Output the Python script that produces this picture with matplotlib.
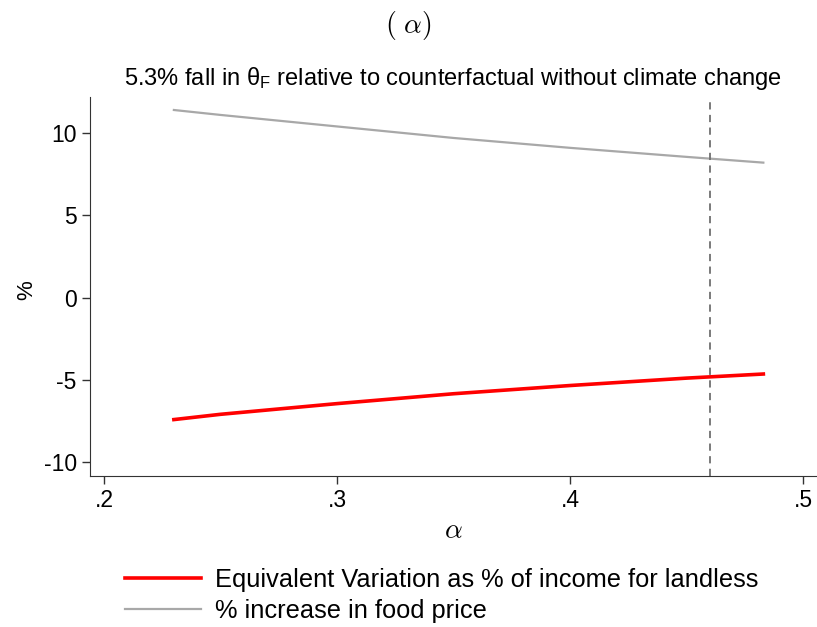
import numpy as np
import matplotlib as mpl
import matplotlib.pyplot as plt

# alpha grid and simulated outcomes
alpha = [0.23, 0.25, 0.30, 0.35, 0.40, 0.45, 0.483]
food_price = [11.4, 11.1, 10.4, 9.7, 9.1, 8.55, 8.2]
ev_landless = [-7.42, -7.1, -6.45, -5.85, -5.35, -4.9, -4.65]
alpha_base = 0.46

mpl.rcParams['font.family'] = ['Liberation Sans', 'DejaVu Sans']
mpl.rcParams['mathtext.fontset'] = 'cm'
mpl.rcParams['axes.unicode_minus'] = False

fig = plt.figure(figsize=(8.17, 6.27), dpi=100)
ax = fig.add_axes([90/817, 1-476/627, (816-90)/817, (476-97)/627])

ax.plot(alpha, ev_landless, color='#ff0000', lw=2.6,
        label='Equivalent Variation as % of income for landless')
ax.plot(alpha, food_price, color='#a8a8a8', lw=1.6,
        label='% increase in food price')
ax.axvline(alpha_base, color='#707070', lw=1.3, ls=(0, (4, 3)))

ax.set_xlim(0.194, 0.5056)
ax.set_ylim(-10.85, 12.19)
ax.set_xticks([0.2, 0.3, 0.4, 0.5])
ax.set_xticklabels(['.2', '.3', '.4', '.5'])
ax.set_yticks([-10, -5, 0, 5, 10])
ax.tick_params(labelsize=16.5, length=6, width=1, color='#333333')
for s in ['top', 'right']:
    ax.spines[s].set_visible(False)
for s in ['left', 'bottom']:
    ax.spines[s].set_color('#333333')

ax.set_ylabel('%', fontsize=16)
ax.yaxis.set_label_coords(-0.073, 0.49)
ax.set_xlabel(r'$\alpha$', fontsize=20, labelpad=4)

fig.text(0.5, 1-25/627, r'$(\ \alpha)$', ha='center', va='center', fontsize=20)
fig.text(0.554, 1-78/627, r'5.3% fall in $\mathregular{\theta_F}$ relative to counterfactual without climate change',
         ha='center', va='center', fontsize=17)

fig.legend(loc='upper left', bbox_to_anchor=(115/817, 1-558/627), frameon=False,
           fontsize=18.3, handlelength=3.0, handletextpad=0.55, labelspacing=0.25,
           borderaxespad=0)

fig.savefig('out.png', dpi=100)
